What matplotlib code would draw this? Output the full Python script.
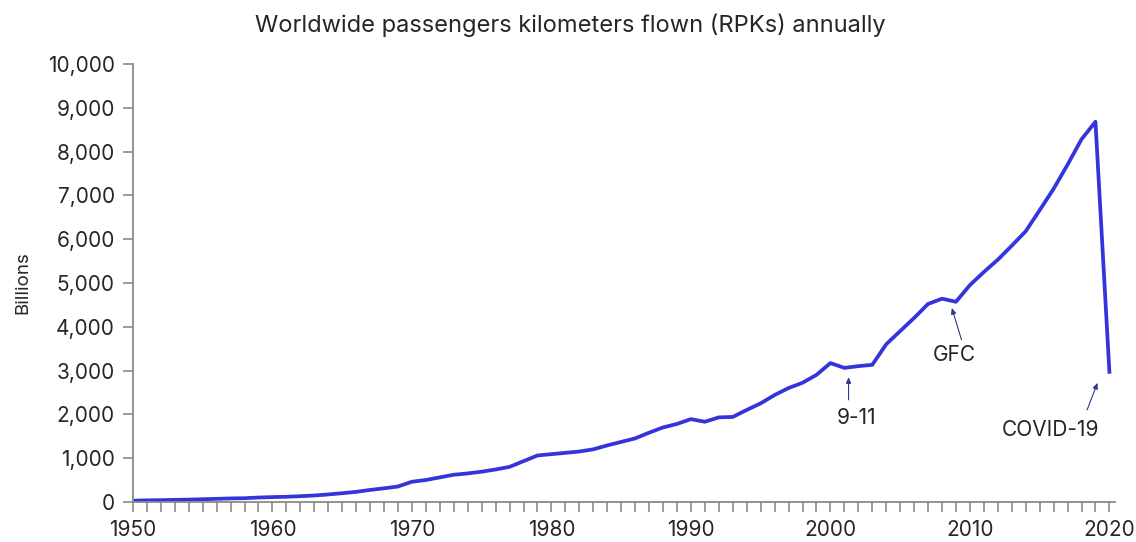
import matplotlib
matplotlib.use("Agg")
import matplotlib.pyplot as plt
from matplotlib.ticker import FuncFormatter, MultipleLocator

years = list(range(1950, 2021))
rpk_billions = [
    28, 35, 40, 46, 52, 61, 70, 79, 84, 100,            # 1950s
    109, 117, 130, 146, 170, 198, 229, 273, 310, 351,   # 1960s
    460, 500, 560, 620, 650, 690, 740, 800, 930, 1060,  # 1970s
    1090, 1120, 1150, 1200, 1290, 1370, 1450, 1580, 1700, 1780,  # 1980s
    1890, 1830, 1930, 1940, 2100, 2250, 2440, 2600, 2720, 2900,  # 1990s
    3170, 3060, 3100, 3130, 3600, 3900, 4200, 4520, 4640, 4570,  # 2000s
    4950, 5250, 5530, 5850, 6180, 6660, 7150, 7700, 8280, 8680,  # 2010s
    2970,                                                # 2020
]

events = ["9-11", "GFC", "COVID-19"]
label_pos = [(2001.9, 1920), (2008.9, 3360), (2015.8, 1650)]
arrow_tail = [(2001.3, 2330), (2009.4, 3700), (2018.4, 2100)]
arrow_head = [(2001.3, 2850), (2008.7, 4430), (2019.15, 2720)]

line_color = "#3434dc"
arrow_color = "#2c3a8c"
text_color = "#262626"
spine_color = "#8a8a8a"

plt.rcParams["font.family"] = ["Inter", "DejaVu Sans"]

fig = plt.figure(figsize=(11.36, 5.42), dpi=100)
ax = fig.add_axes([0.117, 0.074, 0.8645, 0.808])

ax.plot(years, rpk_billions, color=line_color, lw=2.7, solid_joinstyle="round")

for name, (tx, ty), tail, head in zip(events, label_pos, arrow_tail, arrow_head):
    ax.annotate("", xy=head, xytext=tail,
                arrowprops=dict(arrowstyle="-|>,head_length=0.35,head_width=0.15",
                                color=arrow_color, lw=0.8, shrinkA=0, shrinkB=0))
    ax.text(tx, ty, name, ha="center", va="center", fontsize=15, color=text_color)

ax.set_xlim(1950, 2020.4)
ax.set_ylim(0, 10000)
ax.xaxis.set_major_locator(MultipleLocator(10))
ax.xaxis.set_minor_locator(MultipleLocator(1))
ax.yaxis.set_major_locator(MultipleLocator(1000))
ax.yaxis.set_major_formatter(FuncFormatter(lambda v, p: f"{int(v):,}"))

for side in ("top", "right"):
    ax.spines[side].set_visible(False)
for side in ("left", "bottom"):
    ax.spines[side].set_color(spine_color)
    ax.spines[side].set_linewidth(1.3)

ax.tick_params(axis="both", which="both", color=spine_color, width=1.2,
               labelsize=15, labelcolor=text_color, direction="out")
ax.tick_params(axis="both", which="major", length=7, pad=6)
ax.tick_params(axis="x", which="minor", length=7)

ax.set_ylabel("Billions", fontsize=13.5, color=text_color, labelpad=12)
fig.suptitle("Worldwide passengers kilometers flown (RPKs) annually",
             x=0.502, y=0.975, fontsize=17, color=text_color)

fig.savefig("out.png", dpi=100, facecolor="white")
